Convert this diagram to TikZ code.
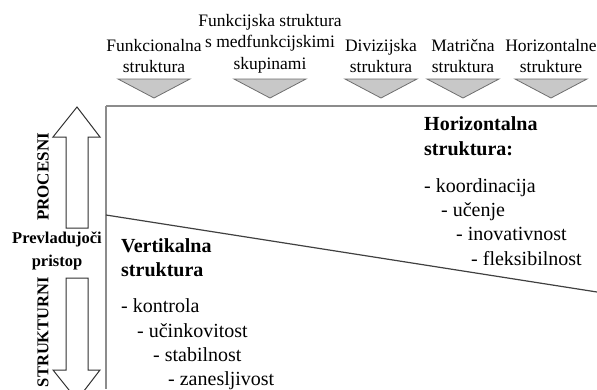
\documentclass[tikz,border=0pt]{standalone}
\usepackage{fontspec}
\setmainfont{Liberation Serif}
\usetikzlibrary{arrows.meta}
\definecolor{TriFill}{HTML}{C8C8C8}
\definecolor{TriEdge}{HTML}{6E6E6E}
\definecolor{FrameGray}{HTML}{8C8C8C}
\definecolor{SplitGray}{HTML}{404040}
\definecolor{ArrowEdge}{HTML}{303030}

\tikzset{
  toplabel/.style={align=center, inner sep=0pt, anchor=south, font=\fontsize{17.5}{21.5}\selectfont},
  heading/.style={anchor=base west, inner sep=0pt, font=\fontsize{20}{24}\selectfont\bfseries},
  item/.style={anchor=base west, inner sep=0pt, font=\fontsize{20}{24}\selectfont},
  trimark/.style={fill=TriFill, draw=TriEdge, line width=0.8pt},
  bigarrow/.style={fill=white, draw=ArrowEdge, line width=1pt},
  sidelabel/.style={rotate=90, inner sep=0pt, font=\fontsize{17}{20}\selectfont\bfseries}
}

\begin{document}
\begin{tikzpicture}[x=1pt, y=-1pt]
    \useasboundingbox (0,0) rectangle (597,389);
    \clip (0,0) rectangle (597,389);

    % Structure types along the top
    \foreach \name/\cx/\txt in {funk/154/{Funkcionalna\\struktura},
        medf/270/{Funkcijska struktura\\s medfunkcijskimi\\skupinami},
        div/381/{Divizijska\\struktura}, mat/463/{Matrična\\struktura},
        hor/551/{Horizontalne\\strukture}} {
        \node[toplabel] (\name) at (\cx,73) {\txt};
        \draw[trimark] (\cx-36,79) -- (\cx+36,79) -- (\cx,98) -- cycle;
    }

    % Frame
    \draw[FrameGray, line width=2pt] (106,106) -- (597,106);
    \draw[FrameGray, line width=1.5pt] (106,106) -- (106,389);

    % Dividing line
    \draw[SplitGray, line width=1.2pt] (106,215) -- (597,292);

    % Up and down arrows
    \draw[bigarrow] (66,228) -- (66,137) -- (53,137) -- (77,107) -- (100,137) -- (88,137) -- (88,228) -- cycle;
    \draw[bigarrow] (66,278) -- (66,370) -- (53,370) -- (77,400) -- (100,370) -- (88,370) -- (88,278) -- cycle;
    \node[sidelabel] (proc) at (43,177) {PROCESNI};
    \node[sidelabel, font=\fontsize{16.5}{20}\selectfont\bfseries] (strk) at (43,332) {STRUKTURNI};
    \node[font=\fontsize{16.5}{23}\selectfont\bfseries, align=center, inner sep=0pt] (prev) at (57,251) {Prevladujoči\\pristop};

    % Horizontal structure
    \node[heading] (hhead) at (424,130) {Horizontalna};
    \node[heading] (hhead2) at (424,155) {struktura:};
    \node[item] (h1) at (424,192) {- koordinacija};
    \node[item] (h2) at (441,216) {- učenje};
    \node[item] (h3) at (456,240) {- inovativnost};
    \node[item] (h4) at (471,265) {- fleksibilnost};

    % Vertical structure
    \node[heading] (vhead) at (121,252) {Vertikalna};
    \node[heading] (vhead2) at (121,276) {struktura};
    \node[item] (v1) at (121,312) {- kontrola};
    \node[item] (v2) at (137,337) {- učinkovitost};
    \node[item] (v3) at (153,361) {- stabilnost};
    \node[item] (v4) at (168,385) {- zanesljivost};
\end{tikzpicture}
\end{document}
